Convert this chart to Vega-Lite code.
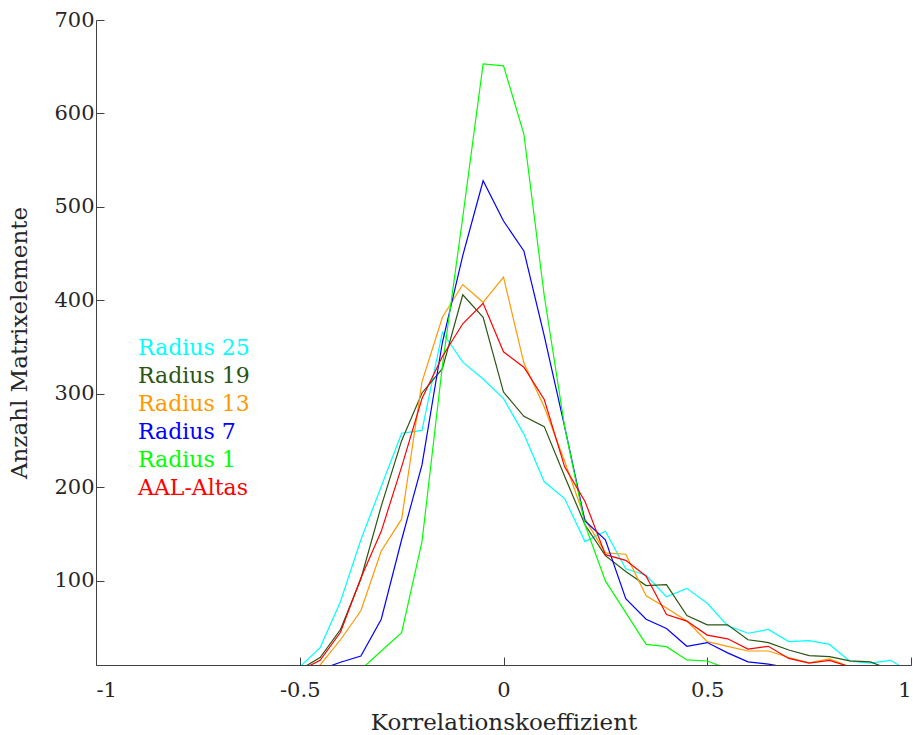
{
  "$schema": "https://vega.github.io/schema/vega-lite/v6.json",
  "width": 815,
  "height": 645,
  "autosize": "none",
  "padding": {"left": 96, "top": 20, "right": 2, "bottom": 70},
  "background": "white",
  "config": {
    "view": {"stroke": null},
    "font": "DejaVu Serif",
    "axis": {
      "grid": false,
      "domainColor": "#404040",
      "tickColor": "#404040",
      "labelColor": "#262626",
      "titleColor": "#262626",
      "labelFont": "DejaVu Serif",
      "titleFont": "DejaVu Serif",
      "titleFontWeight": "normal",
      "labelFontSize": 21,
      "titleFontSize": 23,
      "tickSize": -8
    }
  },
  "data": {
    "values": [
      {"s": "Radius 25", "x": -0.5, "y": 8}, {"s": "Radius 25", "x": -0.45, "y": 28.6}, {"s": "Radius 25", "x": -0.4, "y": 78}, {"s": "Radius 25", "x": -0.35, "y": 144}, {"s": "Radius 25", "x": -0.3, "y": 201}, {"s": "Radius 25", "x": -0.25, "y": 258}, {"s": "Radius 25", "x": -0.2, "y": 261}, {"s": "Radius 25", "x": -0.15, "y": 366}, {"s": "Radius 25", "x": -0.1, "y": 334}, {"s": "Radius 25", "x": -0.05, "y": 316}, {"s": "Radius 25", "x": 0, "y": 295}, {"s": "Radius 25", "x": 0.05, "y": 257}, {"s": "Radius 25", "x": 0.1, "y": 206}, {"s": "Radius 25", "x": 0.15, "y": 188}, {"s": "Radius 25", "x": 0.2, "y": 142}, {"s": "Radius 25", "x": 0.25, "y": 153}, {"s": "Radius 25", "x": 0.3, "y": 113}, {"s": "Radius 25", "x": 0.35, "y": 106}, {"s": "Radius 25", "x": 0.4, "y": 83}, {"s": "Radius 25", "x": 0.45, "y": 92}, {"s": "Radius 25", "x": 0.5, "y": 76}, {"s": "Radius 25", "x": 0.55, "y": 52}, {"s": "Radius 25", "x": 0.6, "y": 44}, {"s": "Radius 25", "x": 0.65, "y": 48}, {"s": "Radius 25", "x": 0.7, "y": 35}, {"s": "Radius 25", "x": 0.75, "y": 36}, {"s": "Radius 25", "x": 0.8, "y": 32}, {"s": "Radius 25", "x": 0.85, "y": 14}, {"s": "Radius 25", "x": 0.9, "y": 12}, {"s": "Radius 25", "x": 0.95, "y": 15}, {"s": "Radius 25", "x": 1.0, "y": 2},

      {"s": "Radius 19", "x": -0.5, "y": 5}, {"s": "Radius 19", "x": -0.45, "y": 18}, {"s": "Radius 19", "x": -0.4, "y": 48}, {"s": "Radius 19", "x": -0.35, "y": 102}, {"s": "Radius 19", "x": -0.3, "y": 180}, {"s": "Radius 19", "x": -0.25, "y": 250}, {"s": "Radius 19", "x": -0.2, "y": 301}, {"s": "Radius 19", "x": -0.15, "y": 327}, {"s": "Radius 19", "x": -0.1, "y": 406}, {"s": "Radius 19", "x": -0.05, "y": 382}, {"s": "Radius 19", "x": 0, "y": 302}, {"s": "Radius 19", "x": 0.05, "y": 276}, {"s": "Radius 19", "x": 0.1, "y": 265}, {"s": "Radius 19", "x": 0.15, "y": 212}, {"s": "Radius 19", "x": 0.2, "y": 160}, {"s": "Radius 19", "x": 0.25, "y": 127}, {"s": "Radius 19", "x": 0.3, "y": 110}, {"s": "Radius 19", "x": 0.35, "y": 95}, {"s": "Radius 19", "x": 0.4, "y": 96}, {"s": "Radius 19", "x": 0.45, "y": 63}, {"s": "Radius 19", "x": 0.5, "y": 53}, {"s": "Radius 19", "x": 0.55, "y": 53}, {"s": "Radius 19", "x": 0.6, "y": 37}, {"s": "Radius 19", "x": 0.65, "y": 34}, {"s": "Radius 19", "x": 0.7, "y": 26}, {"s": "Radius 19", "x": 0.75, "y": 20}, {"s": "Radius 19", "x": 0.8, "y": 19}, {"s": "Radius 19", "x": 0.85, "y": 14.5}, {"s": "Radius 19", "x": 0.9, "y": 13.4}, {"s": "Radius 19", "x": 0.95, "y": 5},

      {"s": "Radius 13", "x": -0.5, "y": 3}, {"s": "Radius 13", "x": -0.45, "y": 10}, {"s": "Radius 13", "x": -0.4, "y": 37}, {"s": "Radius 13", "x": -0.35, "y": 68}, {"s": "Radius 13", "x": -0.3, "y": 132}, {"s": "Radius 13", "x": -0.25, "y": 166}, {"s": "Radius 13", "x": -0.2, "y": 313}, {"s": "Radius 13", "x": -0.15, "y": 382}, {"s": "Radius 13", "x": -0.1, "y": 417}, {"s": "Radius 13", "x": -0.05, "y": 398}, {"s": "Radius 13", "x": 0, "y": 425}, {"s": "Radius 13", "x": 0.05, "y": 333}, {"s": "Radius 13", "x": 0.1, "y": 286}, {"s": "Radius 13", "x": 0.15, "y": 228}, {"s": "Radius 13", "x": 0.2, "y": 166}, {"s": "Radius 13", "x": 0.25, "y": 130}, {"s": "Radius 13", "x": 0.3, "y": 128.5}, {"s": "Radius 13", "x": 0.35, "y": 84}, {"s": "Radius 13", "x": 0.4, "y": 71}, {"s": "Radius 13", "x": 0.45, "y": 57}, {"s": "Radius 13", "x": 0.5, "y": 35}, {"s": "Radius 13", "x": 0.55, "y": 30}, {"s": "Radius 13", "x": 0.6, "y": 25}, {"s": "Radius 13", "x": 0.65, "y": 25}, {"s": "Radius 13", "x": 0.7, "y": 18}, {"s": "Radius 13", "x": 0.75, "y": 12.4}, {"s": "Radius 13", "x": 0.8, "y": 16.6}, {"s": "Radius 13", "x": 0.85, "y": 8},

      {"s": "Radius 7", "x": -0.45, "y": 5}, {"s": "Radius 7", "x": -0.4, "y": 13}, {"s": "Radius 7", "x": -0.35, "y": 19.6}, {"s": "Radius 7", "x": -0.3, "y": 59}, {"s": "Radius 7", "x": -0.25, "y": 144}, {"s": "Radius 7", "x": -0.2, "y": 224}, {"s": "Radius 7", "x": -0.15, "y": 355}, {"s": "Radius 7", "x": -0.1, "y": 448}, {"s": "Radius 7", "x": -0.05, "y": 528}, {"s": "Radius 7", "x": 0, "y": 485}, {"s": "Radius 7", "x": 0.05, "y": 453}, {"s": "Radius 7", "x": 0.1, "y": 362}, {"s": "Radius 7", "x": 0.15, "y": 265}, {"s": "Radius 7", "x": 0.2, "y": 164}, {"s": "Radius 7", "x": 0.25, "y": 144}, {"s": "Radius 7", "x": 0.3, "y": 81}, {"s": "Radius 7", "x": 0.35, "y": 59}, {"s": "Radius 7", "x": 0.4, "y": 49}, {"s": "Radius 7", "x": 0.45, "y": 30}, {"s": "Radius 7", "x": 0.5, "y": 34}, {"s": "Radius 7", "x": 0.55, "y": 23}, {"s": "Radius 7", "x": 0.6, "y": 13.4}, {"s": "Radius 7", "x": 0.65, "y": 11}, {"s": "Radius 7", "x": 0.7, "y": 7},

      {"s": "Radius 1", "x": -0.35, "y": 5}, {"s": "Radius 1", "x": -0.3, "y": 25}, {"s": "Radius 1", "x": -0.25, "y": 44.6}, {"s": "Radius 1", "x": -0.2, "y": 142}, {"s": "Radius 1", "x": -0.15, "y": 330}, {"s": "Radius 1", "x": -0.1, "y": 489}, {"s": "Radius 1", "x": -0.05, "y": 653}, {"s": "Radius 1", "x": 0, "y": 651}, {"s": "Radius 1", "x": 0.05, "y": 578}, {"s": "Radius 1", "x": 0.1, "y": 405}, {"s": "Radius 1", "x": 0.15, "y": 265}, {"s": "Radius 1", "x": 0.2, "y": 160}, {"s": "Radius 1", "x": 0.25, "y": 100}, {"s": "Radius 1", "x": 0.3, "y": 66}, {"s": "Radius 1", "x": 0.35, "y": 32}, {"s": "Radius 1", "x": 0.4, "y": 29.6}, {"s": "Radius 1", "x": 0.45, "y": 15.4}, {"s": "Radius 1", "x": 0.5, "y": 14.3}, {"s": "Radius 1", "x": 0.55, "y": 6},

      {"s": "AAL-Altas", "x": -0.5, "y": 4}, {"s": "AAL-Altas", "x": -0.45, "y": 15}, {"s": "AAL-Altas", "x": -0.4, "y": 45}, {"s": "AAL-Altas", "x": -0.35, "y": 103}, {"s": "AAL-Altas", "x": -0.3, "y": 153}, {"s": "AAL-Altas", "x": -0.25, "y": 222}, {"s": "AAL-Altas", "x": -0.2, "y": 295}, {"s": "AAL-Altas", "x": -0.15, "y": 340}, {"s": "AAL-Altas", "x": -0.1, "y": 375}, {"s": "AAL-Altas", "x": -0.05, "y": 397}, {"s": "AAL-Altas", "x": 0, "y": 345}, {"s": "AAL-Altas", "x": 0.05, "y": 328.5}, {"s": "AAL-Altas", "x": 0.1, "y": 294}, {"s": "AAL-Altas", "x": 0.15, "y": 222}, {"s": "AAL-Altas", "x": 0.2, "y": 185}, {"s": "AAL-Altas", "x": 0.25, "y": 128}, {"s": "AAL-Altas", "x": 0.3, "y": 122}, {"s": "AAL-Altas", "x": 0.35, "y": 105}, {"s": "AAL-Altas", "x": 0.4, "y": 64}, {"s": "AAL-Altas", "x": 0.45, "y": 57}, {"s": "AAL-Altas", "x": 0.5, "y": 42}, {"s": "AAL-Altas", "x": 0.55, "y": 38}, {"s": "AAL-Altas", "x": 0.6, "y": 27}, {"s": "AAL-Altas", "x": 0.65, "y": 30}, {"s": "AAL-Altas", "x": 0.7, "y": 17}, {"s": "AAL-Altas", "x": 0.75, "y": 12}, {"s": "AAL-Altas", "x": 0.8, "y": 15}, {"s": "AAL-Altas", "x": 0.85, "y": 8}
    ]
  },
  "mark": {"type": "line", "clip": true, "strokeWidth": 1.2, "interpolate": "linear"},
  "encoding": {
    "x": {
      "field": "x", "type": "quantitative",
      "scale": {"domain": [-1, 1], "nice": false, "zero": false},
      "axis": {
        "values": [-1, -0.5, 0, 0.5, 1],
        "labelExpr": "'' + datum.value",
        "labelPadding": 22,
        "title": "Korrelationskoeffizient",
        "titlePadding": 11
      }
    },
    "y": {
      "field": "y", "type": "quantitative",
      "scale": {"domain": [10, 700], "nice": false, "zero": false},
      "axis": {
        "values": [100, 200, 300, 400, 500, 600, 700],
        "labelPadding": 10,
        "title": "Anzahl Matrixelemente",
        "titlePadding": 22
      }
    },
    "color": {
      "field": "s", "type": "nominal",
      "scale": {
        "domain": ["Radius 25", "Radius 19", "Radius 13", "Radius 7", "Radius 1", "AAL-Altas"],
        "range": ["#00FFFF", "#2A5512", "#FF9900", "#0000FF", "#00FF00", "#FF0000"]
      },
      "legend": {
        "orient": "none",
        "legendX": 20,
        "legendY": 317,
        "title": null,
        "symbolSize": 0,
        "symbolStrokeWidth": 0,
        "symbolOpacity": 0,
        "labelOffset": 0,
        "labelFont": "DejaVu Serif",
        "labelFontSize": 22,
        "rowPadding": 6,
        "encode": {"labels": {"update": {"fill": {"scale": "color", "field": "value"}}}}
      }
    }
  }
}
